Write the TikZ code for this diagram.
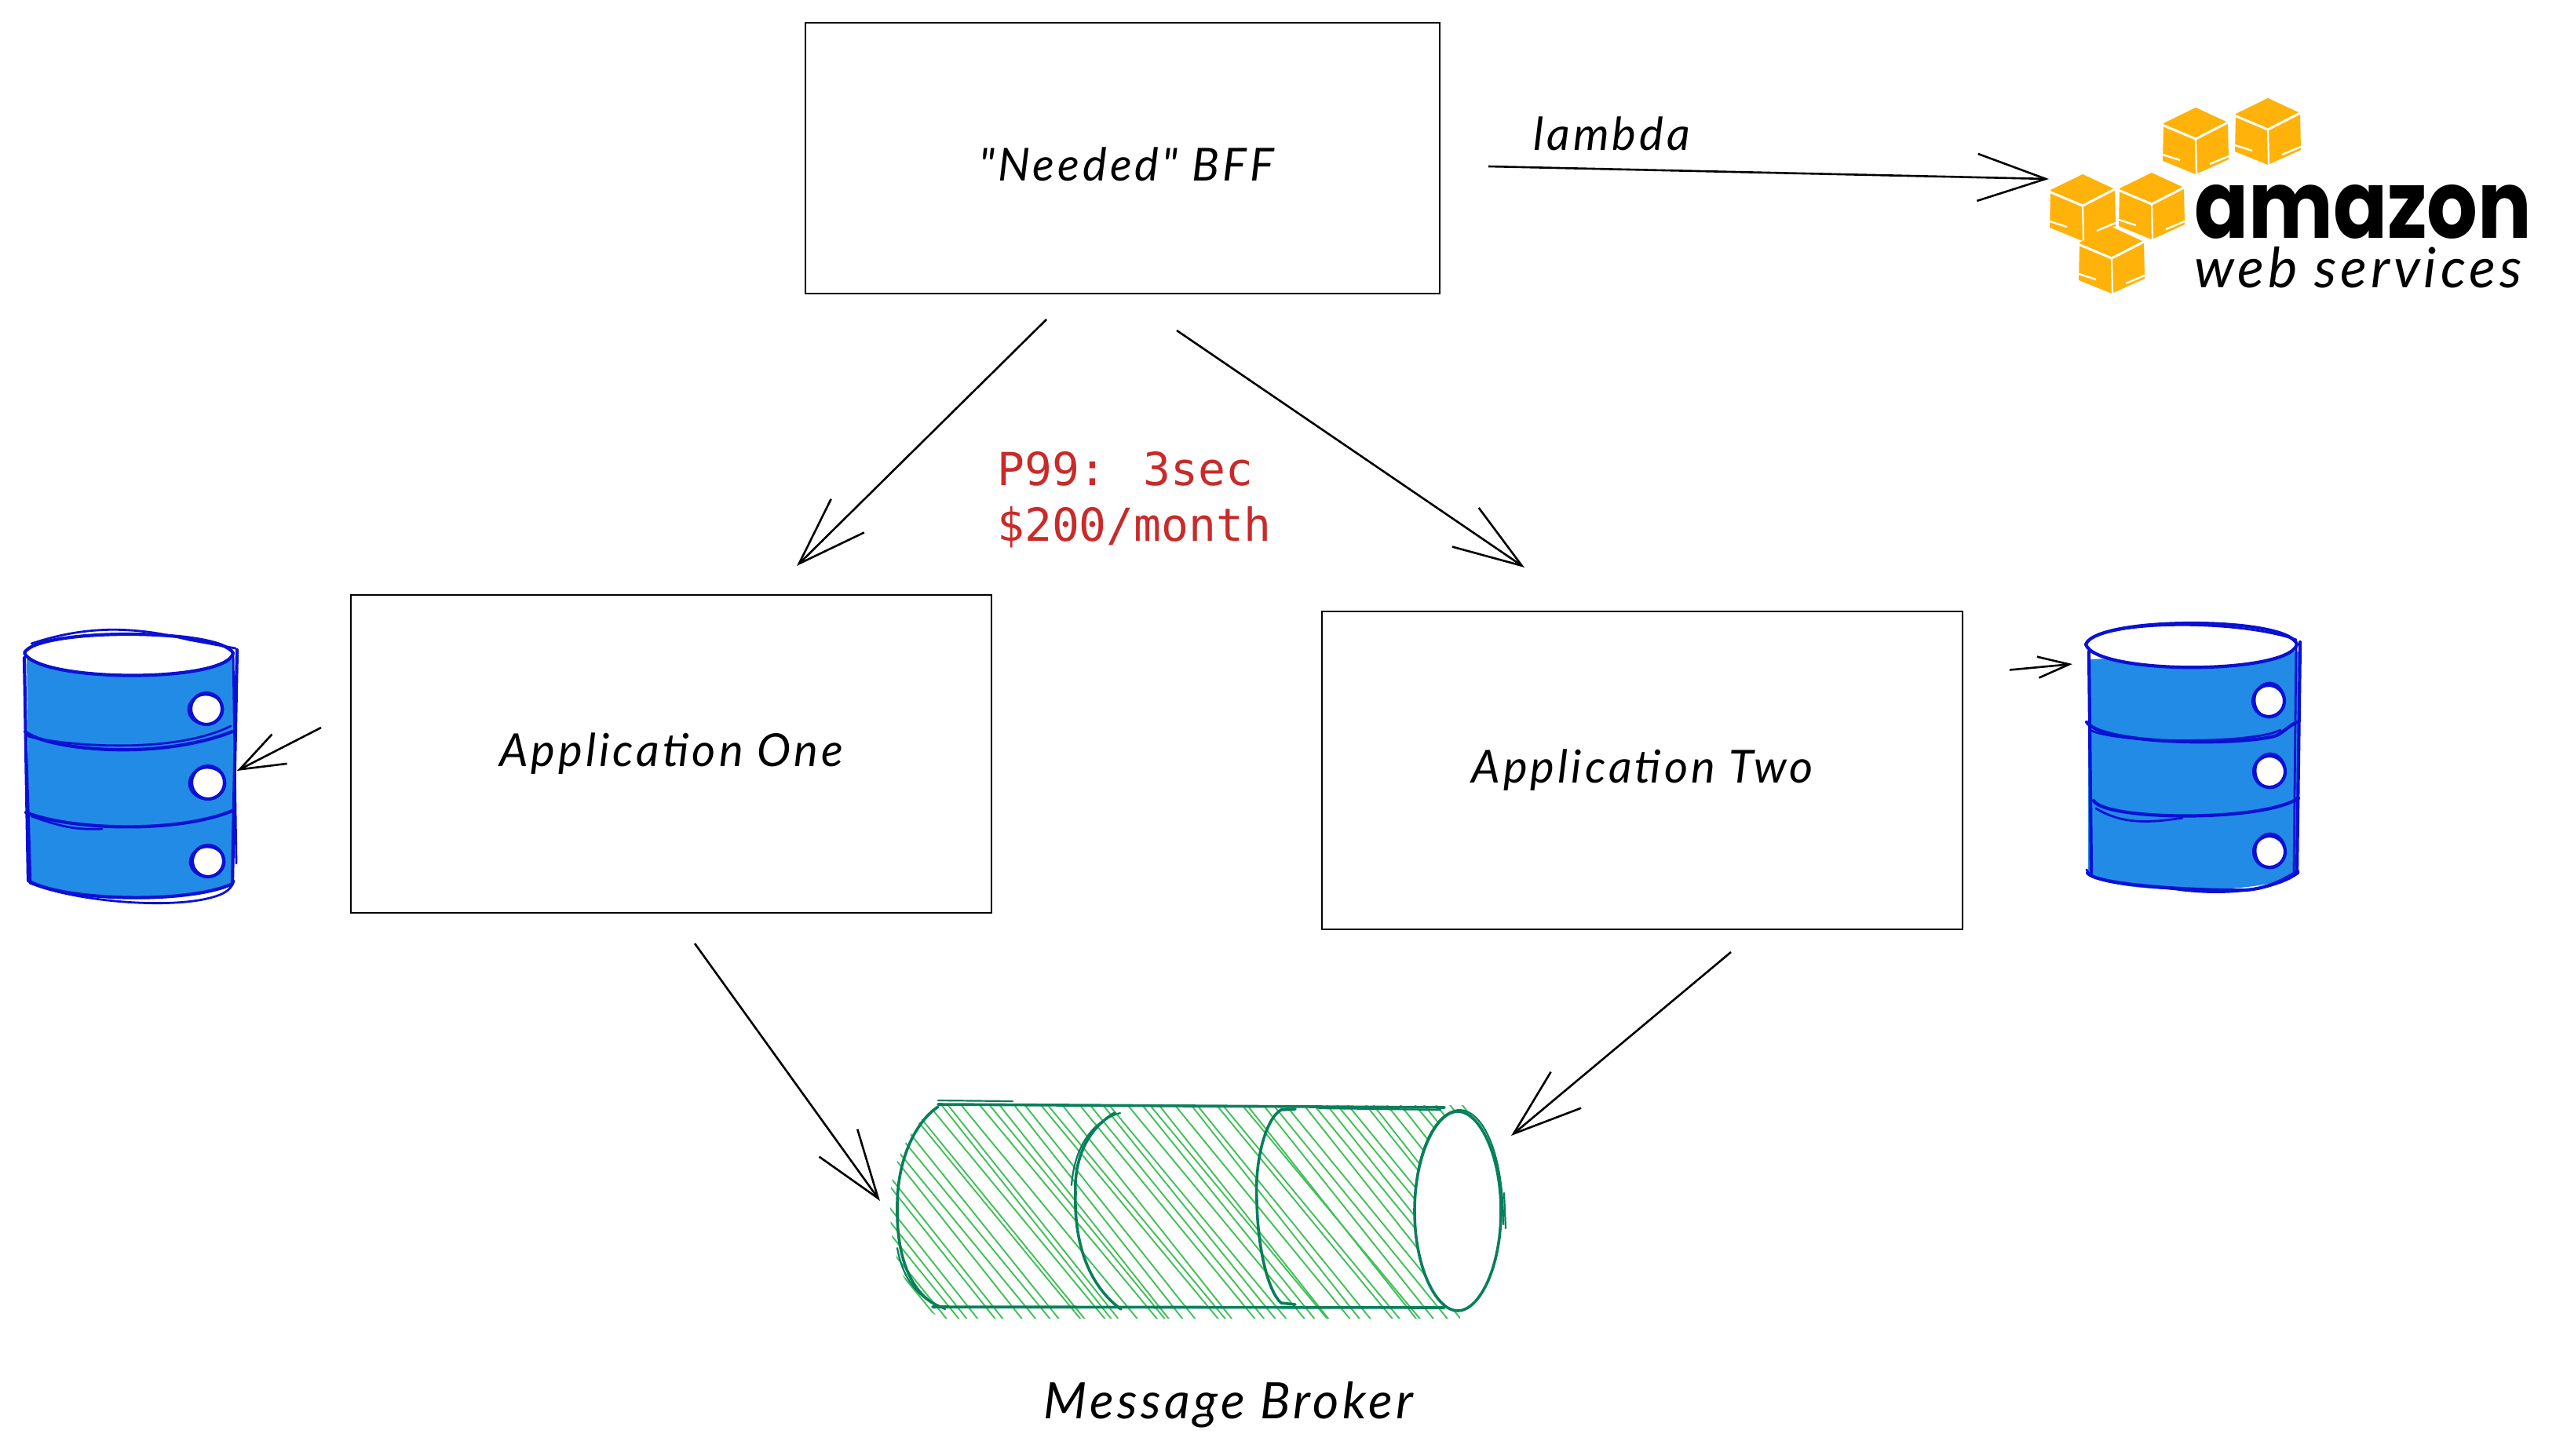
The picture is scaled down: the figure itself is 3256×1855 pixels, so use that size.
\documentclass[tikz,border=0pt]{standalone}
\usepackage{fontspec}
\setmainfont{Lato}
\newfontfamily\hand[LetterSpace=7]{Lato Italic}
\newfontfamily\codefont{DejaVu Sans Mono}
\newfontfamily\logofont{Poppins}
\usetikzlibrary{arrows.meta,calc}
\definecolor{dbstroke}{HTML}{0A11D3}
\definecolor{dbfill}{HTML}{228BE6}
\definecolor{mqstroke}{HTML}{087F5B}
\definecolor{mqfill}{HTML}{40C057}
\definecolor{awsorange}{HTML}{FFB20A}
\definecolor{notered}{HTML}{C92A2A}
\tikzset{
  box/.style={draw=black,line width=2.6pt,fill=white,inner sep=0pt,outer sep=0pt,font=\hand\fontsize{58}{66}\selectfont},
  arrowbig/.style={draw=black,line width=2.6pt,-{Straight Barb[length=87pt,width=60pt,line width=2.6pt]}},
  arrowsmall/.style={draw=black,line width=2.6pt,-{Straight Barb[length=57pt,width=42pt,line width=2.6pt]}},
  arrowtiny/.style={draw=black,line width=2.6pt,-{Straight Barb[length=40pt,width=27pt,line width=2.6pt]}},
  handlabel/.style={inner sep=0pt,font=\hand\fontsize{58}{66}\selectfont},
  dbline/.style={draw=dbstroke,line width=4.2pt,line cap=round,line join=round},
  dbthin/.style={draw=dbstroke,line width=2.8pt,line cap=round,line join=round},
  mqline/.style={draw=mqstroke,line width=3.6pt,line cap=round,line join=round},
  mqthin/.style={draw=mqstroke,line width=2.2pt,line cap=round,line join=round},
  hatchline/.style={draw=mqfill,line width=1.9pt,line cap=round},
  awscube/.pic={
    \fill[awsorange] (0,0) -- (41,19) -- (42,66) -- (0,85) -- (-42,68) -- (-41,20) -- cycle;
    \draw[white,line width=3pt] (-43,22) -- (0,40) -- (43,18);
    \draw[white,line width=2.2pt] (0,40) -- (1,85);
    \draw[white,line width=2.4pt] (-42,60) -- (-20,67) (42,62) -- (18,72);
  }
}
\begin{document}
\begin{tikzpicture}[x=1pt,y=-1pt]
\useasboundingbox (0,0) rectangle (3256,1855);

% boxes
\node[box,minimum width=808pt,minimum height=345pt] (bff) at (1430,201.5) {\raisebox{-29pt}[0pt][0pt]{\hspace{10pt}"Needed" BFF}};
\node[box,minimum width=816pt,minimum height=405pt] (app1) at (855,960.5) {Application One};
\node[box,minimum width=816pt,minimum height=405pt] (app2) at (2092,981.5) {Application Two};

% free ends
\coordinate (awsin) at (2610,228);
\coordinate (brokerL) at (1121,1530);
\coordinate (brokerR) at (1925,1447);
\coordinate (dbLin) at (302,982);
\coordinate (dbRin) at (2640,846);

% connectors
\draw[arrowbig] ($(bff.south)+(-97,33)$) -- ($(app1.north)+(160,-37)$);
\draw[arrowbig] ($(bff.south)+(69,47)$) -- ($(app2.north)+(-150,-56)$);
\draw[arrowbig] ($(bff.east)+(62,10.5)$) -- (awsin);
\draw[arrowbig] ($(app1.south)+(30,39)$) -- (brokerL);
\draw[arrowbig] ($(app2.south)+(113,29)$) -- (brokerR);
\draw[arrowsmall] ($(app1.west)+(-38,-33.5)$) -- (dbLin);
\draw[arrowtiny] ($(app2.east)+(60,-128)$) -- (dbRin);

% labels
\node[handlabel] (lambda) at (2053,170) {lambda};
\node[inner sep=0pt,align=left,anchor=west,text=notered,font=\codefont\fontsize{58}{71}\selectfont] (cost) at (1270,637) {P99: 3sec\\\$200/month};
\node[handlabel,font=\hand\fontsize{64}{70}\selectfont] (mblabel) at (1565,1790) {Message Broker};

% left database
\fill[dbfill] (34,840) -- (38,1122) .. controls (80,1150) and (240,1155) .. (296,1125) -- (298,840) -- cycle;
\draw[dbline] (31,838) -- (36,1122) .. controls (80,1148) and (240,1152) .. (296,1126);
\draw[dbthin] (38,1125) .. controls (100,1150) and (230,1160) .. (280,1140) .. controls (290,1136) and (296,1130) .. (298,1122);
\draw[dbline] (302,828) -- (296,1125);
\draw[dbthin] (297,832) -- (301,1100);
\draw[dbthin] (33,930) -- (39,1125);
\draw[dbline] (32,932) .. controls (60,955) and (200,970) .. (296,932);
\draw[dbthin] (36,938) .. controls (80,950) and (220,962) .. (294,925);
\draw[dbline] (33,1035) .. controls (90,1058) and (230,1062) .. (298,1032);
\draw[dbthin] (40,1040) .. controls (70,1050) and (90,1058) .. (130,1056);
\filldraw[dbline,fill=white] (31,832) .. controls (45,800) and (280,800) .. (297,832) .. controls (290,870) and (50,870) .. (31,832) -- cycle;
\draw[dbthin] (40,820) .. controls (100,800) and (160,795) .. (240,815) -- (300,826);
\foreach \cy/\cx/\rr in {903/263/20,997/265/21,1097/265/20}{
  \filldraw[dbline,fill=white] (\cx,\cy) circle[radius=\rr];
  \draw[dbthin] (\cx-1,\cy+1) circle[x radius=\rr+2,y radius=\rr-1];
}

% right database
\fill[dbfill] (2660,840) -- (2660,1115) .. controls (2700,1140) and (2880,1140) .. (2925,1115) -- (2928,830) -- cycle;
\draw[dbline] (2661,830) -- (2664,1112);
\draw[dbthin] (2658,1108) .. controls (2665,1128) and (2740,1128) .. (2780,1134) .. controls (2850,1142) and (2905,1130) .. (2928,1112);
\draw[dbline] (2659,1112) .. controls (2670,1128) and (2800,1135) .. (2860,1134) .. controls (2890,1132) and (2910,1120) .. (2927,1110);
\draw[dbline] (2930,818) -- (2926,1112);
\draw[dbthin] (2925,820) -- (2922,1110);
\draw[dbline] (2658,920) .. controls (2680,950) and (2860,950) .. (2900,937) .. controls (2910,932) and (2915,925) .. (2926,920);
\draw[dbthin] (2662,930) .. controls (2700,948) and (2870,948) .. (2905,930);
\draw[dbline] (2667,1020) .. controls (2680,1045) and (2880,1048) .. (2928,1017);
\draw[dbthin] (2670,1030) .. controls (2700,1048) and (2730,1050) .. (2780,1042);
\filldraw[dbline,fill=white] (2657,821) .. controls (2670,785) and (2915,785) .. (2926,821) .. controls (2915,860) and (2670,860) .. (2657,821) -- cycle;
\draw[dbthin] (2670,810) .. controls (2720,790) and (2860,792) .. (2925,815);
\foreach \cy/\cx/\rr in {893/2890/20,983/2891/20,1085/2891/20}{
  \filldraw[dbline,fill=white] (\cx,\cy) circle[radius=\rr];
  \draw[dbthin] (\cx+1,\cy-1) circle[x radius=\rr-1,y radius=\rr+2];
}

% message broker hatching
\begin{scope}
  \clip (1195,1408) .. controls (1160,1430) and (1130,1490) .. (1134,1540) .. controls (1134,1610) and (1160,1660) .. (1200,1680) -- (1860,1680) -- (1870,1408) -- cycle;
  \pgfmathsetseed{7}
  \foreach \hx in {900,916,...,1900}{
    \pgfmathsetmacro\ja{rnd*12-6}
    \pgfmathsetmacro\jb{rnd*14-7}
    \draw[hatchline] ({\hx+\ja},1400) -- ({\hx+\ja+236+\jb},1692);
  }
\end{scope}
% cylinder outline
\draw[mqline] (1195,1410) .. controls (1165,1430) and (1142,1480) .. (1143,1540) .. controls (1142,1600) and (1160,1650) .. (1198,1665);
\draw[mqthin] (1143,1590) .. controls (1150,1630) and (1170,1655) .. (1204,1668);
\draw[mqline] (1195,1407) -- (1840,1411);
\draw[mqthin] (1195,1402) -- (1290,1403) (1680,1412) -- (1835,1414);
\draw[mqline] (1188,1665) -- (1840,1666);
\draw[mqthin] (1365,1510) .. controls (1368,1470) and (1385,1430) .. (1427,1418);
\draw[mqline] (1370,1520) .. controls (1368,1470) and (1390,1435) .. (1420,1418);
\draw[mqline] (1370,1520) .. controls (1368,1590) and (1390,1640) .. (1428,1668);
\draw[mqline] (1601,1530) .. controls (1598,1480) and (1612,1425) .. (1632,1414) -- (1650,1413);
\draw[mqline] (1601,1530) .. controls (1602,1590) and (1615,1645) .. (1632,1660) -- (1650,1662);
\filldraw[mqline,fill=white] (1857,1416) .. controls (1830,1416) and (1802,1470) .. (1802,1543) .. controls (1802,1616) and (1830,1670) .. (1857,1670) .. controls (1884,1670) and (1912,1616) .. (1912,1543) .. controls (1912,1470) and (1884,1416) .. (1857,1416) -- cycle;
\draw[mqthin] (1805,1500) .. controls (1812,1450) and (1835,1414) .. (1860,1414) .. controls (1890,1416) and (1915,1470) .. (1915,1560);
\draw[mqthin] (1916,1520) -- (1918,1565);

% aws logo
\path (2797,137) pic {awscube};
\path (2889,125) pic {awscube};
\path (2653,222) pic {awscube};
\path (2741,220) pic {awscube};
\path (2690,289) pic {awscube};
\node[inner sep=0pt,anchor=west,font=\logofont\bfseries\fontsize{114}{120}\selectfont] (awsa) at (2795,270) {\resizebox{430pt}{68pt}{amazon}};
\node[inner sep=0pt,anchor=west,font=\hand\fontsize{66}{72}\selectfont] (awsb) at (2795,341) {\resizebox{417pt}{!}{web services}};
\end{tikzpicture}
\end{document}
